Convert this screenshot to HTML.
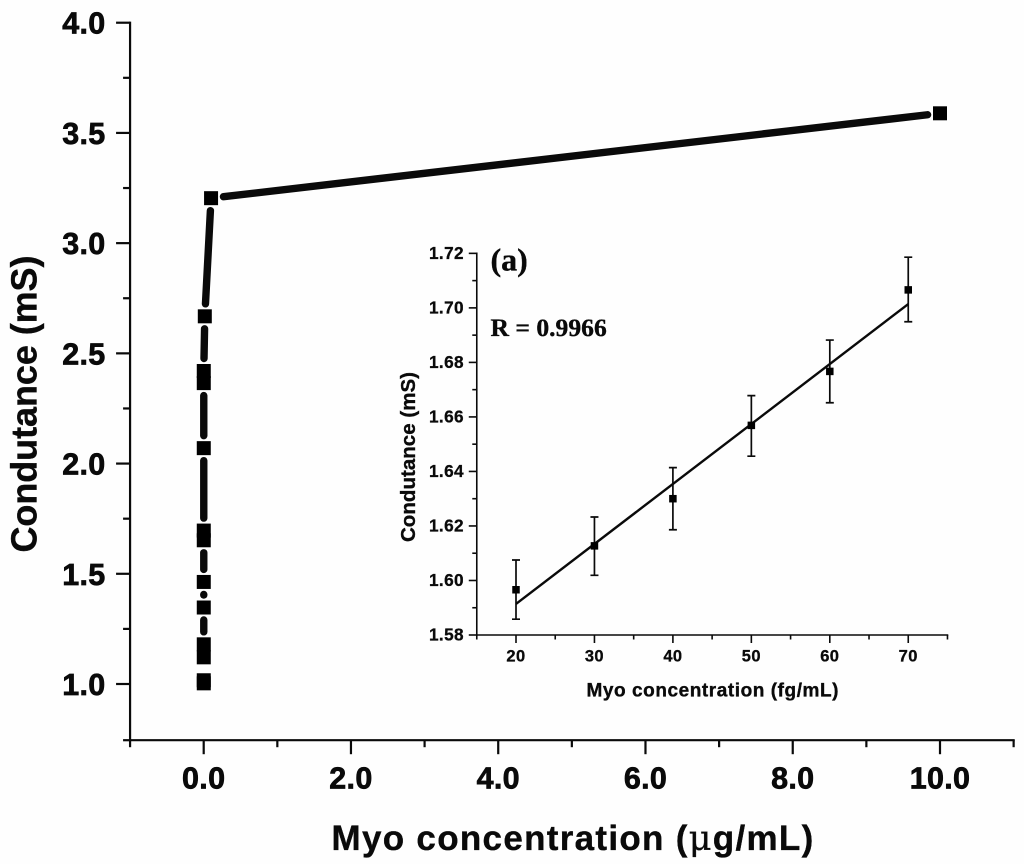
<!DOCTYPE html>
<html lang="en">
<head>
<meta charset="utf-8">
<title>Conductance vs Myo concentration</title>
<style>
html,body{margin:0;padding:0;background:#fff;}
svg{display:block;}
text{font-family:"Liberation Sans",sans-serif;font-weight:bold;fill:#0a0a0a;stroke:#0a0a0a;stroke-width:0.35px;}
.serif{font-family:"Liberation Serif",serif;}
</style>
</head>
<body>
<svg id="chart" width="1024" height="864" viewBox="0 0 1024 864" xmlns="http://www.w3.org/2000/svg">
  <rect x="0" y="0" width="1024" height="864" fill="#fefefe"/>
  <g id="main-plot"></g>
  <g id="inset-plot"></g>
  <text transform="translate(36.7,552.5) rotate(-90)" font-size="36" textLength="297">Condutance (mS)</text>
  <text x="331.5" y="850" font-size="35" letter-spacing="1.3">Myo concentration (<tspan class="serif" style="font-family:'DejaVu Serif','Liberation Serif',serif;font-weight:normal">μ</tspan>g/mL)</text>
  <text transform="translate(415,542) rotate(-90)" font-size="20.5" textLength="170">Condutance (mS)</text>
  <text x="586.5" y="696.7" font-size="19" textLength="252">Myo concentration (fg/mL)</text>
  <text class="serif" style="font-family:'Liberation Serif',serif" x="490.5" y="270.7" font-size="32">(a)</text>
  <text class="serif" style="font-family:'Liberation Serif',serif" x="490.5" y="336" font-size="25.6">R = 0.9966</text>
</svg>
<script>
// Main chart data
var mainX = [0.001, 0.001, 0.001, 0.001, 0.001, 0.001, 0.001, 0.001, 0.001, 0.001, 0.001, 0.015, 0.1, 10];
var mainY = [1.003, 1.017, 1.121, 1.18, 1.347, 1.463, 1.652, 1.696, 2.07, 2.365, 2.42, 2.668, 3.204, 3.589];
var mainXTicks = [-1, 0, 1, 2, 3, 4, 5, 6, 7, 8, 9, 10, 11];
var mainXLabels = ["", "0.0", "", "2.0", "", "4.0", "", "6.0", "", "8.0", "", "10.0", ""];
var mainYTicks = [0.745, 1, 1.25, 1.5, 1.75, 2, 2.25, 2.5, 2.75, 3, 3.25, 3.5, 3.75, 4];
var mainYLabels = ["", "1.0", "", "1.5", "", "2.0", "", "2.5", "", "3.0", "", "3.5", "", "4.0"];

// Inset chart data
var insetX = [20, 30, 40, 50, 60, 70];
var insetY = [1.5966, 1.6127, 1.63, 1.6569, 1.6767, 1.7066];
var insetErrTop = [1.6075, 1.6233, 1.6414, 1.6678, 1.6882, 1.7186];
var insetErrBottom = [1.5858, 1.6019, 1.6186, 1.6456, 1.6652, 1.6949];
var fitX = [20, 70];
var fitY = [1.5914, 1.7014];
var insetXTicks = [15, 20, 25, 30, 35, 40, 45, 50, 55, 60, 65, 70, 75];
var insetXLabels = ["", "20", "", "30", "", "40", "", "50", "", "60", "", "70", ""];
var insetYTicks = [1.58, 1.59, 1.6, 1.61, 1.62, 1.63, 1.64, 1.65, 1.66, 1.67, 1.68, 1.69, 1.7, 1.71, 1.72];
var insetYLabels = ["1.58", "", "1.60", "", "1.62", "", "1.64", "", "1.66", "", "1.68", "", "1.70", "", "1.72"];

var NS = "http://www.w3.org/2000/svg";
function mk(parent, tag, attrs) {
  var el = document.createElementNS(NS, tag);
  for (var k in attrs) el.setAttribute(k, attrs[k]);
  parent.appendChild(el);
  return el;
}
function line(parent, x1, y1, x2, y2, w, cap) {
  return mk(parent, "line", {x1: x1, y1: y1, x2: x2, y2: y2, stroke: "#0a0a0a", "stroke-width": w, "stroke-linecap": cap || "butt"});
}

// Axis functions
function mx(v) { return 203.7 + 73.63 * v; }
function my(v) { return 684 - 220.43 * (v - 1); }
function ix(v) { return 516 + 7.845 * (v - 20); }
function iy(v) { return 635 - 2726 * (v - 1.58); }

function drawAxes(g, o) {
  var x0 = o.x(o.xTicks[0]), x1 = o.x(o.xTicks[o.xTicks.length - 1]);
  var y0 = o.y(o.yTicks[0]), y1 = o.y(o.yTicks[o.yTicks.length - 1]);
  var ax = line(g, x0, y0, x1, y0, o.w, "square");
  
  
  var ay = line(g, x0, y0, x0, y1, o.w, "square");
  
  
  o.xTicks.forEach(function (t, i) {
    var major = o.xLabels[i] !== "";
    var px = o.x(t);
    var tk = line(g, px, y0, px, y0 + (major ? o.major : o.minor), o.w);
    
    
    if (major) {
      var lb = mk(g, "text", {x: px, y: o.xBase, "text-anchor": "middle", "font-size": o.fx, "letter-spacing": o.ls, style: "stroke-width:" + o.sw + "px"});
      lb.textContent = o.xLabels[i];
      
      
    }
  });
  o.yTicks.forEach(function (t, i) {
    var major = o.yLabels[i] !== "";
    var py = o.y(t);
    var tk = line(g, x0, py, x0 - (major ? o.major : o.minor), py, o.w);
    
    
    if (major) {
      var lb = mk(g, "text", {x: o.yRight, y: py + o.yOff, "text-anchor": "end", "font-size": o.fy, "letter-spacing": o.ls, style: "stroke-width:" + o.sw + "px"});
      lb.textContent = o.yLabels[i];
      
      
    }
  });
}

// Main plot
var mainG = document.getElementById("main-plot");
drawAxes(mainG, {x: mx, y: my, xTicks: mainXTicks, xLabels: mainXLabels, yTicks: mainYTicks, yLabels: mainYLabels,
  w: 2.2, major: 14, minor: 7, xBase: 788.7, yRight: 105.5, yOff: 11, fx: 30.5, fy: 30.5, ls: 0.3, sw: 0.7});

var GAP = 12.5, SIZE = 14;
for (var i = 0; i < mainX.length - 1; i++) {
  var ax0 = mx(mainX[i]), ay0 = my(mainY[i]), ax1 = mx(mainX[i + 1]), ay1 = my(mainY[i + 1]);
  var dx = ax1 - ax0, dy = ay1 - ay0, len = Math.sqrt(dx * dx + dy * dy);
  if (len < 2 * GAP) continue;
  var ux = dx / len, uy = dy / len;
  var seg = line(mainG, ax0 + ux * GAP, ay0 + uy * GAP, ax1 - ux * GAP, ay1 - uy * GAP, 7.4, "round");
  
  
}
mainX.forEach(function (v, i) {
  var r = mk(mainG, "rect", {x: mx(v) - SIZE / 2, y: my(mainY[i]) - SIZE / 2, width: SIZE, height: SIZE, fill: "#000"});
  
  
});

// Inset plot
var insetG = document.getElementById("inset-plot");
drawAxes(insetG, {x: ix, y: iy, xTicks: insetXTicks, xLabels: insetXLabels, yTicks: insetYTicks, yLabels: insetYLabels,
  w: 1.6, major: 8, minor: 4.5, xBase: 661.7, yRight: 464, yOff: 5.5, fx: 16.5, fy: 17.2, ls: 0.4, sw: 0.3});

var fit = line(insetG, ix(fitX[0]), iy(fitY[0]), ix(fitX[1]), iy(fitY[1]), 2.4);



insetX.forEach(function (v, i) {
  var px = ix(v), t = iy(insetErrTop[i]), b = iy(insetErrBottom[i]);
  var eb = mk(insetG, "path", {
    d: "M" + px + " " + t + "V" + b + "M" + (px - 4) + " " + t + "H" + (px + 4) + "M" + (px - 4) + " " + b + "H" + (px + 4),
    stroke: "#0a0a0a", "stroke-width": 1.7, fill: "none"
  });
  
  
  var s = mk(insetG, "rect", {x: px - 3.75, y: iy(insetY[i]) - 3.75, width: 7.5, height: 7.5, fill: "#000"});
  
  
});
</script>
</body>
</html>
